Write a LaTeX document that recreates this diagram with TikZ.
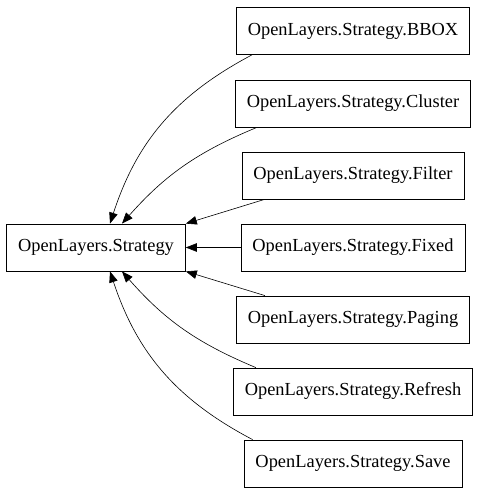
\documentclass[tikz,border=0pt]{standalone}
\usepackage{fontspec}
\setmainfont{Liberation Serif}
\usetikzlibrary{arrows.meta}
\begin{document}
\begin{tikzpicture}[x=1pt, y=1pt]

	\tikzstyle{clase}=[draw, rectangle, line width=0.8pt, inner xsep=11.5pt, minimum height=47pt, font=\fontsize{18.4}{22}\selectfont]
	\tikzstyle{hereda}=[-{Triangle[length=11pt, width=8.5pt]}, line width=0.6pt]

	\useasboundingbox (0, 0) rectangle (480, 493);

	\coordinate (strat) at (96, 245.5);
	\coordinate (bbox) at (353, 462); % SUBCLASES
	\coordinate (cluster) at (353, 389.5);
	\coordinate (filter) at (353, 317.5);
	\coordinate (fixed) at (353, 245.5);
	\coordinate (paging) at (353, 173.5);
	\coordinate (refresh) at (353, 101.5);
	\coordinate (save) at (353, 29.5);

	\node[clase] (strat) at (strat) {OpenLayers.Strategy}; % CLASE BASE
	\node[clase] (bbox) at (bbox) {OpenLayers.Strategy.BBOX};
	\node[clase] (cluster) at (cluster) {OpenLayers.Strategy.Cluster};
	\node[clase] (filter) at (filter) {OpenLayers.Strategy.Filter};
	\node[clase] (fixed) at (fixed) {OpenLayers.Strategy.Fixed};
	\node[clase] (paging) at (paging) {OpenLayers.Strategy.Paging};
	\node[clase] (refresh) at (refresh) {OpenLayers.Strategy.Refresh};
	\node[clase] (save) at (save) {OpenLayers.Strategy.Save};

	%%%%%%%% HERENCIA %%%%%%%%
	\draw[hereda] ([xshift=16pt]bbox.south west) to [bend right=22] ([xshift=14pt]strat.north);
	\draw[hereda] ([xshift=22pt]cluster.south west) to [bend right=13] ([xshift=26pt]strat.north);
	\draw[hereda] ([xshift=23pt]filter.south west) -- (strat.north east);
	\draw[hereda] (fixed.west) -- (strat.east);
	\draw[hereda] ([xshift=29pt]paging.north west) -- (strat.south east);
	\draw[hereda] ([xshift=23pt]refresh.north west) to [bend left=13] ([xshift=26pt]strat.south);
	\draw[hereda] ([xshift=9pt]save.north west) to [bend left=22] ([xshift=14pt]strat.south);
	%%%%%%%%%%%%%%%%%%%%%%%%%%
\end{tikzpicture}
\end{document}
